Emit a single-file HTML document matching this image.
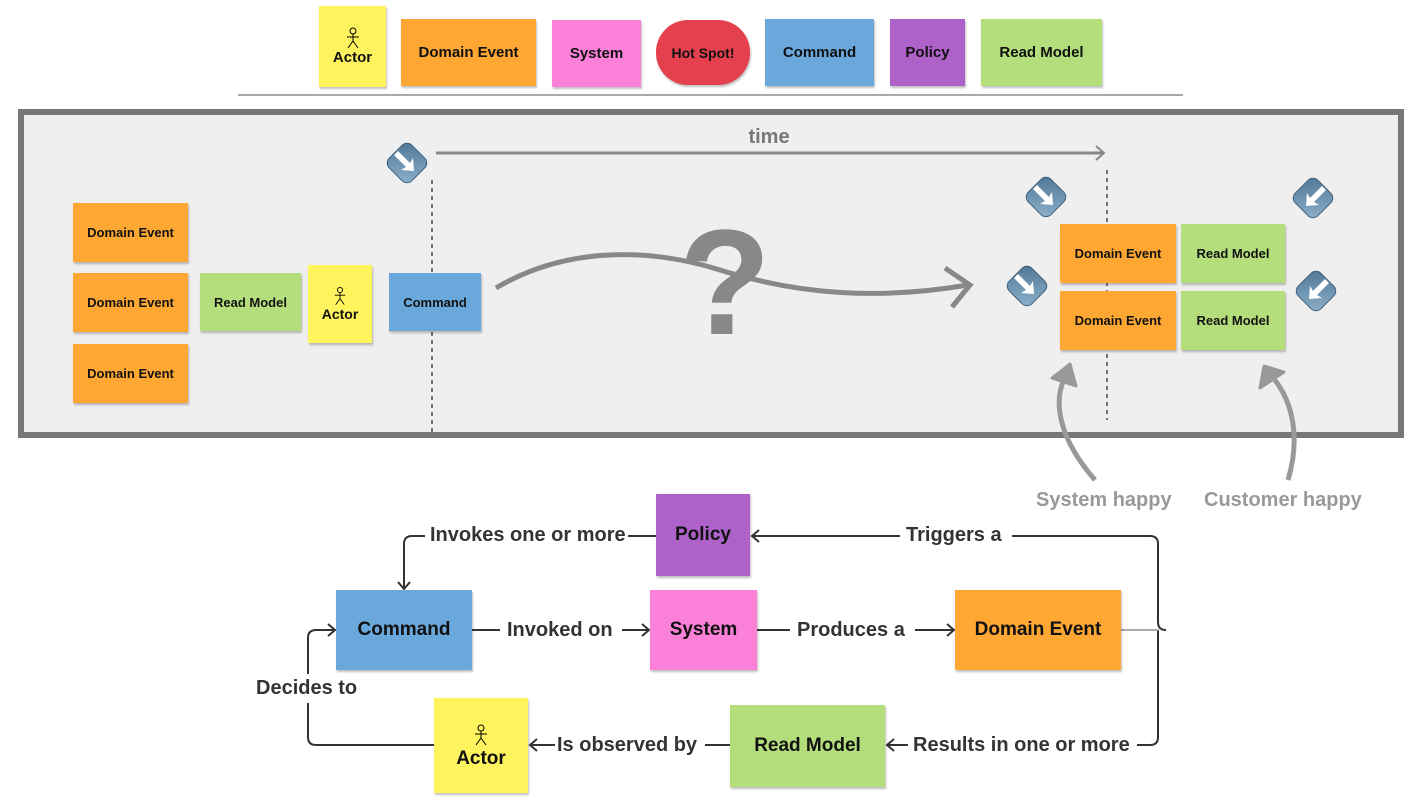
<!DOCTYPE html>
<html><head><meta charset="utf-8"><style>
body{margin:0;width:1426px;height:807px;background:#fff;position:relative;overflow:hidden;font-family:"Liberation Sans",sans-serif;font-weight:bold}
.s{position:absolute;display:flex;align-items:center;justify-content:center;flex-direction:column;color:#111;box-shadow:1px 2px 2px rgba(0,0,0,.25);text-align:center}
.y{background:#fff35e}.o{background:#ffa733}.p{background:#fb80d8}.b{background:#6aa7da}.v{background:#ae62c9}.g{background:#b3de7b}
.l{position:absolute;color:#333;font-size:20px;white-space:nowrap}
svg{position:absolute;left:0;top:0}
</style></head><body>
<svg width="1426" height="807">
<rect x="21" y="112" width="1380" height="323" fill="#efefef" stroke="#777" stroke-width="6"/>
<line x1="238" y1="95" x2="1183" y2="95" stroke="#555" stroke-width="1"/>
</svg>
<!-- legend -->
<div class="s y" style="left:319px;top:6px;width:67px;height:81px;font-size:15px"><svg width="14" height="22" style="position:static" viewBox="0 0 14 22"><circle cx="7" cy="4" r="3" fill="none" stroke="#000"/><path d="M7 7V14M1 10H13M7 14L2 21M7 14L12 21" stroke="#000" fill="none"/></svg>Actor</div>
<div class="s o" style="left:401px;top:19px;width:135px;height:67px;font-size:15px">Domain Event</div>
<div class="s p" style="left:552px;top:20px;width:89px;height:67px;font-size:15px">System</div>
<div class="s" style="left:656px;top:20px;width:94px;height:65px;background:#e5404e;border-radius:32px;font-size:14px">Hot Spot!</div>
<div class="s b" style="left:765px;top:19px;width:109px;height:67px;font-size:15px">Command</div>
<div class="s v" style="left:890px;top:19px;width:75px;height:67px;font-size:15px">Policy</div>
<div class="s g" style="left:981px;top:19px;width:121px;height:67px;font-size:15px">Read Model</div>

<svg width="1426" height="807">
<defs>
<linearGradient id="gb" x1="0" y1="0" x2="1" y2="1"><stop offset="0" stop-color="#4d7595"/><stop offset="1" stop-color="#8fb2cc"/></linearGradient>
<g id="ic"><rect x="-16" y="-16" width="32" height="32" rx="7" transform="rotate(45)" fill="url(#gb)" stroke="#3d5e78"/><path d="M-9 -12 L3 0 L6 -5 L7 8 L-6 7 L-1 4 L-13 -8Z" fill="#fff"/></g>
</defs>
<line x1="432" y1="180" x2="432" y2="432" stroke="#777" stroke-width="2" stroke-dasharray="4,4"/>
<line x1="1107" y1="170" x2="1107" y2="420" stroke="#777" stroke-width="2" stroke-dasharray="4,4"/>
<line x1="436" y1="153" x2="1104" y2="153" stroke="#888" stroke-width="3"/>
<path d="M1096 146 L1104 153 L1096 160" fill="none" stroke="#888" stroke-width="2"/>
<text x="769" y="143" font-size="20" fill="#777" text-anchor="middle" font-family="Liberation Sans" font-weight="bold">time</text>
<text x="725" y="334" font-size="150" fill="#888" text-anchor="middle" font-family="Liberation Sans" font-weight="bold">?</text>
<path d="M496 288 C560 250 640 245 720 270 C800 295 880 300 968 285" fill="none" stroke="#888" stroke-width="5"/>
<path d="M945 268 L970 285 L952 307" fill="none" stroke="#888" stroke-width="5"/>
<use href="#ic" x="407" y="163"/>
<use href="#ic" x="1046" y="197"/>
<use href="#ic" x="1027" y="286"/>
<use href="#ic" x="1313" y="198" transform="translate(2626 0) scale(-1 1)"/>
<use href="#ic" x="1316" y="291" transform="translate(2632 0) scale(-1 1)"/>
<path d="M1095 480 C1060 440 1050 400 1068 372" fill="none" stroke="#999" stroke-width="5"/>
<path d="M1052 378 L1070 364 L1076 386Z" fill="#999" stroke="#999" stroke-width="3" stroke-linejoin="round"/>
<path d="M1288 480 C1300 440 1295 400 1268 372" fill="none" stroke="#999" stroke-width="5"/>
<path d="M1260 388 L1264 366 L1284 372Z" fill="#999" stroke="#999" stroke-width="3" stroke-linejoin="round"/>
<g fill="none" stroke="#333" stroke-width="2">
<path d="M628 536 H656"/><path d="M425 536 H412 Q404 536 404 544 V588"/><path d="M398 582 L404 589 L410 582"/>
<path d="M1012 536 H1150 Q1158 536 1158 544 V622 Q1158 630 1166 630 M1158 630 V737 Q1158 745 1150 745 H1137"/>
<path d="M900 536 H752"/><path d="M759 530 L752 536 L759 542"/>
<path d="M472 630 H500"/><path d="M622 630 H648"/><path d="M642 624 L649 630 L642 636"/>
<path d="M757 630 H790"/><path d="M915 630 H953"/><path d="M947 624 L954 630 L947 636"/>
<path d="M908 745 H887"/><path d="M894 739 L887 745 L894 751"/>
<path d="M555 745 H530"/><path d="M537 739 L530 745 L537 751"/><path d="M705 745 H730"/>
<path d="M434 745 H316 Q308 745 308 737 V703 M308 674 V638 Q308 630 316 630 H334"/><path d="M328 624 L335 630 L328 636"/>
</g>
<line x1="1121" y1="630" x2="1158" y2="630" stroke="#aaa" stroke-width="2"/>
</svg>

<div class="s o" style="left:73px;top:203px;width:115px;height:59px;font-size:13px">Domain Event</div>
<div class="s o" style="left:73px;top:273px;width:115px;height:59px;font-size:13px">Domain Event</div>
<div class="s o" style="left:73px;top:344px;width:115px;height:59px;font-size:13px">Domain Event</div>
<div class="s g" style="left:200px;top:273px;width:101px;height:58px;font-size:13px">Read Model</div>
<div class="s y" style="left:308px;top:265px;width:64px;height:78px;font-size:14px"><svg width="12" height="20" style="position:static" viewBox="0 0 14 22"><circle cx="7" cy="4" r="3" fill="none" stroke="#000"/><path d="M7 7V14M1 10H13M7 14L2 21M7 14L12 21" stroke="#000" fill="none"/></svg>Actor</div>
<div class="s b" style="left:389px;top:273px;width:92px;height:58px;font-size:13px">Command</div>
<div class="s o" style="left:1060px;top:224px;width:116px;height:59px;font-size:13px">Domain Event</div>
<div class="s o" style="left:1060px;top:291px;width:116px;height:59px;font-size:13px">Domain Event</div>
<div class="s g" style="left:1181px;top:224px;width:104px;height:59px;font-size:13px">Read Model</div>
<div class="s g" style="left:1181px;top:291px;width:104px;height:59px;font-size:13px">Read Model</div>
<div class="l" style="left:1036px;top:489px;color:#999">System happy</div>
<div class="l" style="left:1204px;top:489px;color:#999">Customer happy</div>

<div class="s v" style="left:656px;top:494px;width:94px;height:82px;font-size:19px">Policy</div>
<div class="s b" style="left:336px;top:590px;width:136px;height:80px;font-size:19px">Command</div>
<div class="s p" style="left:650px;top:590px;width:107px;height:80px;font-size:19px">System</div>
<div class="s o" style="left:955px;top:590px;width:166px;height:80px;font-size:19px">Domain Event</div>
<div class="s y" style="left:434px;top:698px;width:94px;height:95px;font-size:19px"><svg width="14" height="26" style="position:static" viewBox="0 0 14 22"><circle cx="7" cy="4" r="3" fill="none" stroke="#000"/><path d="M7 7V14M1 10H13M7 14L2 21M7 14L12 21" stroke="#000" fill="none"/></svg>Actor</div>
<div class="s g" style="left:730px;top:705px;width:155px;height:82px;font-size:19px">Read Model</div>

<div class="l" style="left:430px;top:524px">Invokes one or more</div>
<div class="l" style="left:906px;top:524px">Triggers a</div>
<div class="l" style="left:507px;top:619px">Invoked on</div>
<div class="l" style="left:797px;top:619px">Produces a</div>
<div class="l" style="left:256px;top:677px">Decides to</div>
<div class="l" style="left:557px;top:734px">Is observed by</div>
<div class="l" style="left:913px;top:734px">Results in one or more</div>
</body></html>
